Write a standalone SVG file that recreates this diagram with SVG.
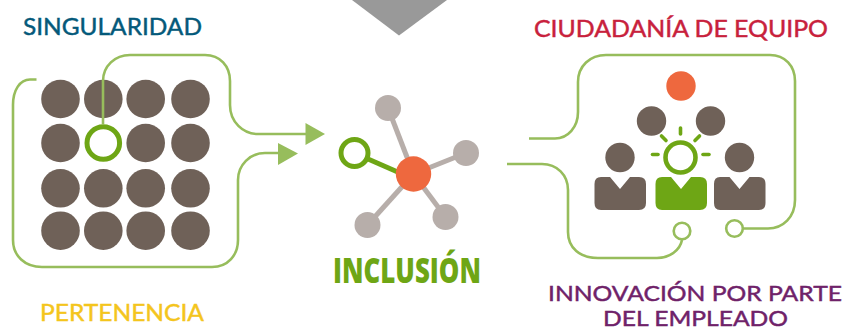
<svg xmlns="http://www.w3.org/2000/svg" width="844" height="331" viewBox="0 0 844 331">
<style>
.lbl{font-family:"Lato","Liberation Sans",sans-serif;font-size:24px;font-weight:400;stroke-width:.45px}
.lbl2{font-size:21.500px}
.wire{fill:none;stroke:#97bd5c;stroke-width:2.6}
.dot{fill:#6f6158}
.grey{fill:#b7aeaa}
.spoke{stroke:#b7aeaa;stroke-width:5;fill:none}
.ring{fill:#fff;stroke:#6ea615;stroke-width:5}
.small{fill:#fff;stroke:#97bd5c;stroke-width:2.6}
.ray{stroke:#6ea615;stroke-width:3.6;stroke-linecap:round;fill:none}
.arrow{fill:#97bd5c}
</style>
<polygon id="top-triangle" points="352,0 447,0 399,35.500" fill="#999999"/>
<g id="singularidad"><text class="lbl" x="23" y="35" fill="#04597a" stroke="#04597a" textLength="179" lengthAdjust="spacingAndGlyphs">SINGULARIDAD</text></g>
<g id="pertenencia"><text class="lbl" x="40" y="320.500" fill="#f4c51d" stroke="#f4c51d" textLength="164" lengthAdjust="spacingAndGlyphs">PERTENENCIA</text></g>
<g id="ciudadania"><text class="lbl" x="534" y="37" fill="#c8213c" stroke="#c8213c" textLength="294" lengthAdjust="spacingAndGlyphs">CIUDADANÍA DE EQUIPO</text></g>
<g id="innovacion"><text class="lbl lbl2" x="548" y="300.500" fill="#6f2269" stroke="#6f2269" textLength="294" lengthAdjust="spacingAndGlyphs">INNOVACIÓN POR PARTE</text><text class="lbl lbl2" x="603" y="326.300" fill="#6f2269" stroke="#6f2269" textLength="185" lengthAdjust="spacingAndGlyphs">DEL EMPLEADO</text></g>
<g id="grid">
<circle class="dot" cx="60.500" cy="99" r="19.300"/><circle class="dot" cx="103.300" cy="99" r="19.300"/><circle class="dot" cx="145.700" cy="99" r="19.300"/><circle class="dot" cx="190.500" cy="99" r="19.300"/>
<circle class="dot" cx="60.500" cy="143" r="19.300"/><circle class="dot" cx="145.700" cy="143" r="19.300"/><circle class="dot" cx="190.500" cy="143" r="19.300"/>
<circle class="dot" cx="60.500" cy="188.300" r="19.300"/><circle class="dot" cx="103.300" cy="188.300" r="19.300"/><circle class="dot" cx="145.700" cy="188.300" r="19.300"/><circle class="dot" cx="190.500" cy="188.300" r="19.300"/>
<circle class="dot" cx="60.500" cy="230.700" r="19.300"/><circle class="dot" cx="103.300" cy="230.700" r="19.300"/><circle class="dot" cx="145.700" cy="230.700" r="19.300"/><circle class="dot" cx="190.500" cy="230.700" r="19.300"/>
</g>
<g id="connectors">
<path class="wire" d="M103 124V81C103 66 115 55 130 55H205C220 55 230 66 230 81V105C230 122 243 134 258 134H310"/>
<polygon class="arrow" points="305.500,123 325,134 305.500,145"/>
<path class="wire" d="M36.500 79.500H30C20 79.500 13 90 13 105V240C13 256 25 267 42 267H212C228 267 238 255 238 240V180C238 165 250 153 265 153H282"/>
<polygon class="arrow" points="278,143 298,153.500 278,165"/>
<path class="wire" d="M529 138.500H555C568 138.500 578 127 578 112V82C578 66 590 55 606 55H770C785 55 795 66 795 81V200C795 217 783 228.500 768 228.500H743"/>
<path class="wire" d="M507 164H542C557 164 568 175 568 190V232C568 248 580 258 598 258H657C670 258 680 250 682 240"/>
</g>
<g id="ring-node"><circle class="ring" cx="103.300" cy="143" r="16.300"/></g>
<g id="inclusion">
<line class="spoke" x1="388" y1="108" x2="413.500" y2="174"/><line class="spoke" x1="466" y1="153" x2="413.500" y2="174"/><line class="spoke" x1="445.500" y1="217" x2="413.500" y2="174"/><line class="spoke" x1="367.500" y1="225" x2="413.500" y2="174"/>
<line x1="368" y1="159" x2="400" y2="173" stroke="#6ea615" stroke-width="5"/>
<circle class="grey" cx="388" cy="108" r="13"/><circle class="grey" cx="466" cy="153" r="13"/><circle class="grey" cx="445.500" cy="217" r="13"/><circle class="grey" cx="367.500" cy="225" r="13"/>
<circle class="ring" cx="354.500" cy="153" r="13.500"/>
<circle cx="413.500" cy="174" r="17.700" fill="#ee683e"/>
<text x="333" y="283" font-family="'Open Sans','Liberation Sans',sans-serif" font-size="35" font-weight="800" fill="#6ea615" textLength="148" lengthAdjust="spacingAndGlyphs">INCLUSIÓN</text>
</g>
<g id="team">
<circle cx="681" cy="86" r="14.700" fill="#ee683e"/>
<circle class="dot" cx="651.500" cy="121" r="14.700"/><circle class="dot" cx="710.500" cy="121" r="14.700"/>
<circle class="dot" cx="620" cy="157.500" r="14.700"/><circle class="dot" cx="739.500" cy="157.500" r="14.700"/>
<path class="dot" d="M601 177H610L620 189L630 177H639Q646 177 646 184V203Q646 210 639 210H601Q594.500 210 594.500 203V184Q594.500 177 601 177Z"/>
<path d="M662 177H671L681 189L691 177H700Q707 177 707 184V203Q707 210 700 210H662Q655.500 210 655.500 203V184Q655.500 177 662 177Z" fill="#6ea615"/>
<path class="dot" d="M720 177H729.500L739.500 189L749.500 177H759Q765.500 177 765.500 184V203Q765.500 210 759 210H720Q714 210 714 203V184Q714 177 720 177Z"/>
<circle cx="680.500" cy="157.500" r="15" fill="#fff" stroke="#6ea615" stroke-width="4.600"/>
<line class="ray" x1="680.500" y1="128" x2="680.500" y2="134"/><line class="ray" x1="661.500" y1="136" x2="666" y2="140.500"/><line class="ray" x1="699.500" y1="136" x2="695" y2="140.500"/><line class="ray" x1="652.500" y1="154.500" x2="658" y2="154.500"/><line class="ray" x1="703" y1="154.500" x2="709" y2="154.500"/>
</g>
<g id="end-dots"><circle class="small" cx="682" cy="231" r="8.300"/><circle class="small" cx="734.500" cy="228.500" r="8.300"/></g>
</svg>
